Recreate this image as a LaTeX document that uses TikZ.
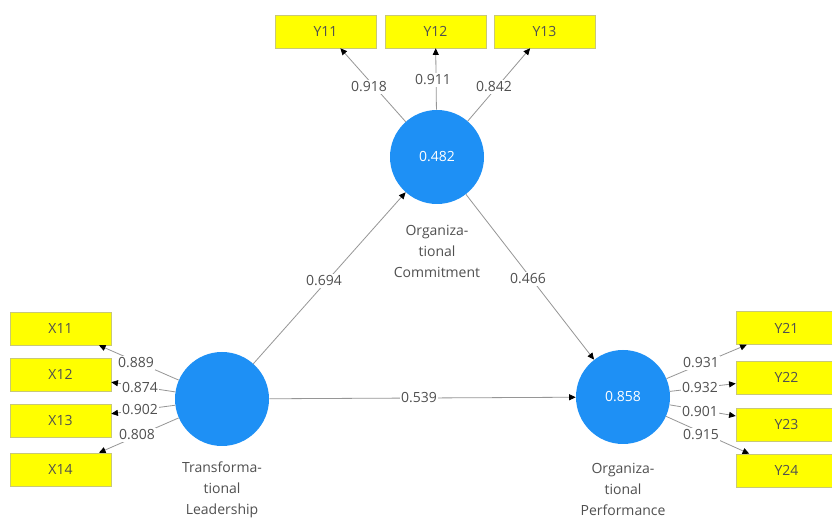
\documentclass[tikz,border=0pt]{standalone}
\usepackage{fontspec}
\setmainfont{Open Sans}
\usetikzlibrary{arrows.meta}
\definecolor{cblue}{RGB}{30,144,245}
\definecolor{boxfill}{RGB}{255,255,0}
\definecolor{boxline}{RGB}{200,200,120}
\definecolor{linegray}{RGB}{150,150,150}
\definecolor{txtgray}{RGB}{80,80,80}
\tikzset{
  lv/.style={circle, fill=cblue, draw=none, minimum size=70.5pt, inner sep=0pt, text=white, font=\fontsize{10.5}{13}\selectfont},
  ind/.style={rectangle, fill=boxfill, draw=boxline, line width=0.4pt, minimum width=75.75pt, minimum height=24.75pt, inner sep=0pt, text=txtgray, font=\fontsize{10.5}{13}\selectfont},
  lbl/.style={fill=white, inner sep=1.2pt, text=txtgray, font=\fontsize{10.5}{13}\selectfont},
  lvtitle/.style={align=center, text=txtgray, font=\fontsize{10.5}{15.75}\selectfont},
  conn/.style={draw=linegray, line width=0.6pt, -{Triangle[length=5pt,width=4.5pt,fill=black,color=black]}},
}
\begin{document}
\begin{tikzpicture}[x=0.75pt,y=-0.75pt]
\useasboundingbox (0,0) rectangle (832,523);
\fill[white] (0,0) rectangle (832,523);
% latent variables
\node[lv] (oc) at (437,157) {0.482};
\node[lv] (tl) at (222,399) {};
\node[lv] (op) at (623,397) {0.858};
% indicators
\node[ind] (y11) at (325.5,31.5) {Y11};
\node[ind] (y12) at (435.5,31.5) {Y12};
\node[ind] (y13) at (544.5,31.5) {Y13};
\node[ind] (x11) at (60.5,328.5) {X11};
\node[ind] (x12) at (60.5,374.5) {X12};
\node[ind] (x13) at (60.5,420.5) {X13};
\node[ind] (x14) at (60.5,469.5) {X14};
\node[ind] (y21) at (786.5,328) {Y21};
\node[ind] (y22) at (786.5,377.5) {Y22};
\node[ind] (y23) at (786.5,424.5) {Y23};
\node[ind] (y24) at (786.5,470.5) {Y24};
% names
\node[lvtitle] (ocn) at (437,251) {Organiza-\\tional\\Commitment};
\node[lvtitle] (tln) at (222,490) {Transforma-\\tional\\Leadership};
\node[lvtitle] (opn) at (623,489) {Organiza-\\tional\\Performance};
% connectors
\draw[conn] (oc) -- (y11);
\draw[conn] (oc) -- (y12);
\draw[conn] (oc) -- (y13);
\draw[conn] (tl) -- (x11);
\draw[conn] (tl) -- (x12);
\draw[conn] (tl) -- (x13);
\draw[conn] (tl) -- (x14);
\draw[conn] (op) -- (y21);
\draw[conn] (op) -- (y22);
\draw[conn] (op) -- (y23);
\draw[conn] (op) -- (y24);
\draw[conn] (tl) -- (oc);
\draw[conn] (oc) -- (op);
\draw[conn] (tl) -- (op);
% labels
\node[lbl] (l1) at (369,87) {0.918};
\node[lbl] (l2) at (433,80) {0.911};
\node[lbl] (l3) at (494,87) {0.842};
\node[lbl] (l4) at (324,281) {0.694};
\node[lbl] (l5) at (528,279) {0.466};
\node[lbl] (l6) at (419,398) {0.539};
\node[lbl] (l7) at (136,363) {0.889};
\node[lbl] (l8) at (140,388) {0.874};
\node[lbl] (l9) at (140,410) {0.902};
\node[lbl] (l10) at (137,435) {0.808};
\node[lbl] (l11) at (701,363) {0.931};
\node[lbl] (l12) at (700,388) {0.932};
\node[lbl] (l13) at (700,412) {0.901};
\node[lbl] (l14) at (701,435) {0.915};
\end{tikzpicture}
\end{document}
